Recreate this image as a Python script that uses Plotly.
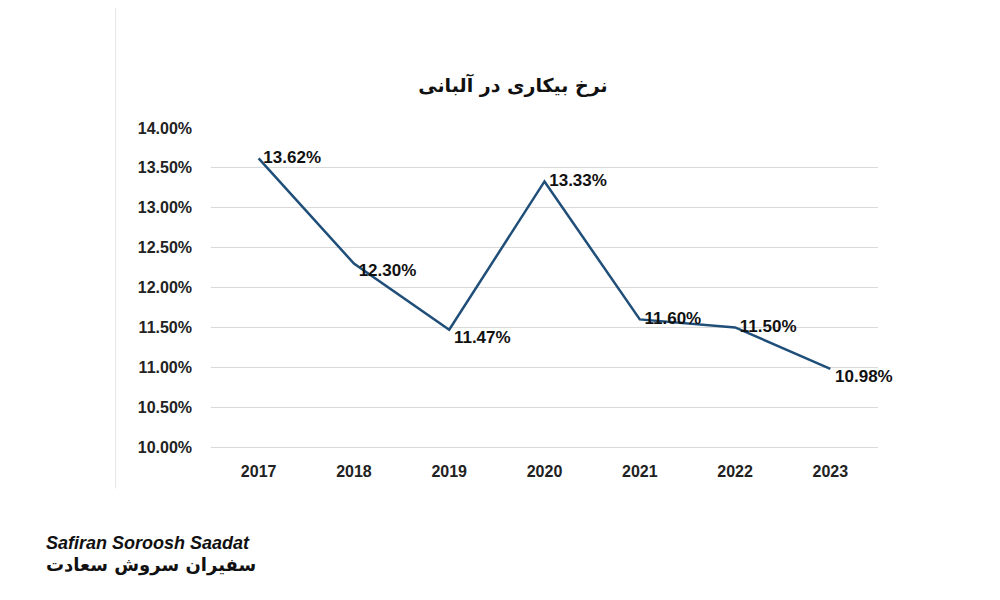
import plotly.graph_objects as go

years = ["2017", "2018", "2019", "2020", "2021", "2022", "2023"]
rates = [13.62, 12.30, 11.47, 13.33, 11.60, 11.50, 10.98]
label_pos = ["middle right", "bottom right", "bottom right", "middle right",
             "middle right", "middle right", "bottom right"]

fig = go.Figure(go.Scatter(
    x=years, y=rates, mode="lines+text",
    line=dict(color="#1f4e79", width=2.5),
    text=[f"<b> {v:.2f}%</b>" for v in rates],
    textposition=label_pos,
    textfont=dict(family="Liberation Sans", size=17, color="#111111"),
    cliponaxis=False,
))

fig.update_layout(
    width=1000, height=600,
    margin=dict(l=203, r=130, t=120, b=161),
    paper_bgcolor="white", plot_bgcolor="white",
    showlegend=False,
    title=dict(text="<b>نرخ بیکاری در آلبانی</b>", x=0.505, y=0.883, xanchor="center",
               font=dict(family="DejaVu Sans", size=19, color="#111111")),
    xaxis=dict(range=[-0.5, 6.5], showgrid=False, showline=True, linecolor="#d9d9d9", ticks="",
               tickfont=dict(family="Liberation Sans", size=16, color="#222222", weight="bold"),
               ticklabelstandoff=10),
    yaxis=dict(range=[10, 14], dtick=0.5, ticksuffix="%", tickformat=".2f",
               showgrid=True, gridcolor="#d9d9d9", zeroline=False, ticklabelstandoff=18,
               tickfont=dict(family="Liberation Sans", size=16, color="#222222", weight="bold")),
)

fig.add_shape(type="line", xref="paper", yref="paper", x0=-0.143, x1=-0.143, y0=-0.13, y1=1.4,
              line=dict(color="#e6e6e6", width=1))
fig.add_annotation(xref="paper", yref="paper", x=-0.25, y=-0.34, xanchor="left", showarrow=False,
                   text="<b><i>Safiran Soroosh Saadat</i></b>",
                   font=dict(family="Liberation Sans", size=18, color="#111111"))
fig.add_annotation(xref="paper", yref="paper", x=-0.25, y=-0.41, xanchor="left", showarrow=False,
                   text="<b>سفیران سروش سعادت</b>",
                   font=dict(family="DejaVu Sans", size=18, color="#111111"))

fig.write_html("out.html")
